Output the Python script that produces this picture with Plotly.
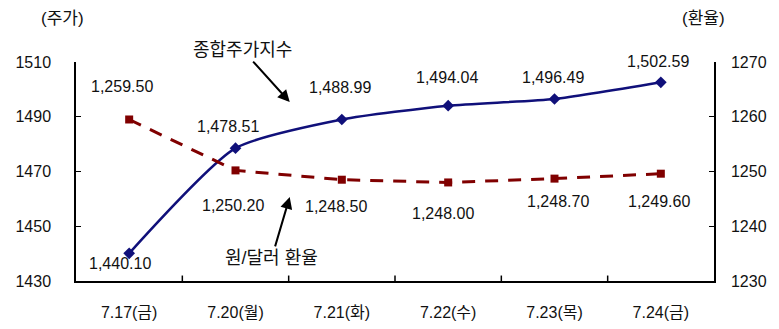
import plotly.graph_objects as go

categories = ["7.17(금)", "7.20(월)", "7.21(화)", "7.22(수)", "7.23(목)", "7.24(금)"]
kospi = [1440.10, 1478.51, 1488.99, 1494.04, 1496.49, 1502.59]
fx = [1259.50, 1250.20, 1248.50, 1248.00, 1248.70, 1249.60]
kospi_labels = ["1,440.10", "1,478.51", "1,488.99", "1,494.04", "1,496.49", "1,502.59"]
fx_labels = ["1,259.50", "1,250.20", "1,248.50", "1,248.00", "1,248.70", "1,249.60"]
left_ticks = [1430, 1450, 1470, 1490, 1510]
right_ticks = [1230, 1240, 1250, 1260, 1270]

FONT = "Liberation Sans, Noto Sans CJK KR, sans-serif"
BLUE = "#10107a"
RED = "#800000"
TXT = "#111"

fig = go.Figure()
fig.add_trace(go.Scatter(
    x=categories, y=fx, yaxis="y2", mode="lines+markers",
    line=dict(color=RED, width=3, dash="13px,10px"),
    marker=dict(symbol="square", size=8, color=RED),
    showlegend=False))
fig.add_trace(go.Scatter(
    x=categories, y=kospi, mode="lines+markers",
    line=dict(color=BLUE, width=2.5, shape="spline", smoothing=0.6),
    marker=dict(symbol="diamond", size=9, color=BLUE),
    showlegend=False))

# label offsets (pixels)
k_off = [(-9, -10), (-8, 22), (-2, 32), (-1, 28), (-2, 21), (-3, 21)]
f_off = [(-7, 33), (-3, -35), (-6, -27), (-5, -31), (3, -23), (-2, -28)]
annotations = []
for c, v, t, (dx, dy) in zip(categories, kospi, kospi_labels, k_off):
    annotations.append(dict(x=c, y=v, xref="x", yref="y", text=t, showarrow=False,
                            xshift=dx, yshift=dy, font=dict(size=16, color=TXT, family=FONT)))
for c, v, t, (dx, dy) in zip(categories, fx, fx_labels, f_off):
    annotations.append(dict(x=c, y=v, xref="x", yref="y2", text=t, showarrow=False,
                            xshift=dx, yshift=dy, font=dict(size=16, color=TXT, family=FONT)))

annotations += [
    dict(x=0.335, y=0.817, xref="paper", yref="paper", text="종합주가지수", showarrow=True,
         ax=-47, ay=-52, arrowhead=2, arrowsize=1.2, arrowwidth=2, arrowcolor="black",
         font=dict(size=18, color=TXT, family=FONT)),
    dict(x=0.335, y=0.384, xref="paper", yref="paper", text="원/달러 환율", showarrow=True,
         ax=-18, ay=61, arrowhead=2, arrowsize=1.2, arrowwidth=2, arrowcolor="black",
         font=dict(size=18, color=TXT, family=FONT)),
    dict(x=(62 - 76) / 638, y=(281 - 18) / 219, xref="paper", yref="paper", text="(주가)",
         showarrow=False, xanchor="center", yanchor="middle",
         font=dict(size=17, color=TXT, family=FONT)),
    dict(x=(703 - 76) / 638, y=(281 - 18) / 219, xref="paper", yref="paper", text="(환율)",
         showarrow=False, xanchor="center", yanchor="middle",
         font=dict(size=17, color=TXT, family=FONT)),
]

fig.update_layout(
    width=779, height=329,
    margin=dict(l=76, r=65, t=62, b=48),
    paper_bgcolor="white", plot_bgcolor="white",
    font=dict(family=FONT, size=16, color=TXT),
    xaxis=dict(type="category", range=[-0.5, 5.5], showgrid=False, showline=True,
               linecolor="black", linewidth=1.5, ticks="", tickfont=dict(size=16),
               zeroline=False, ticklabelstandoff=16, automargin=False),
    yaxis=dict(range=[1430, 1510], tickvals=left_ticks, showgrid=False, showline=True,
               linecolor="black", linewidth=1.5, ticks="inside", ticklen=5, tickcolor="black",
               zeroline=False, ticklabelstandoff=20, tickfont=dict(size=16), automargin=False),
    yaxis2=dict(range=[1230, 1270], tickvals=right_ticks, overlaying="y", side="right",
                showgrid=False, showline=True, linecolor="black", linewidth=1.5,
                ticks="inside", ticklen=5, tickcolor="black", zeroline=False,
                ticklabelstandoff=12, tickfont=dict(size=16), automargin=False),
    annotations=annotations,
)

# category boundary tick marks on x axis (inside)
for i in range(1, len(categories)):
    fig.add_shape(type="line", xref="x", yref="paper", x0=i - 0.5, x1=i - 0.5, y0=0, y1=0.025,
                  line=dict(color="black", width=1.5))

fig.write_html("out.html")
